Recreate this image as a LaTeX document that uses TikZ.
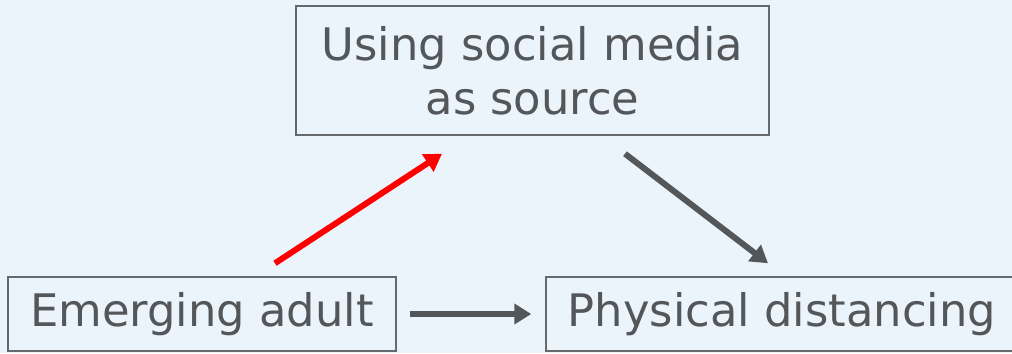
\documentclass[tikz,border=0pt]{standalone}
\usepackage{fontspec}
\setmainfont{DejaVu Sans}
\usetikzlibrary{arrows.meta}
\definecolor{bgblue}{HTML}{EBF3FB}
\definecolor{inkgray}{HTML}{54575A}
\definecolor{framegray}{HTML}{66696C}
\tikzset{
  box/.style={draw=framegray, line width=1.5bp, inner sep=0pt, align=center,
    text=inkgray, font=\fontsize{45}{54}\selectfont},
  link/.style={-{Triangle[length=17bp,width=20bp]}, line width=6bp, color=inkgray}
}
\begin{document}
\begin{tikzpicture}[x=1bp,y=-1bp]
\fill[bgblue] (0,0) rectangle (1012,353);
\useasboundingbox (0,0) rectangle (1012,353);

\node[box, minimum width=473bp, minimum height=129bp] (sm) at (532.5,70.5) {Using social media\\as source};
\node[box, minimum width=388bp, minimum height=74bp] (ea) at (202,314) {Emerging adult};
\node[box, minimum width=472bp, minimum height=74bp] (pd) at (782,314) {Physical distancing};

\draw[link, color=red] ([xshift=73bp,yshift=13bp]ea.north) -- ([xshift=-90.5bp,yshift=-18bp]sm.south);
\draw[link] ([xshift=92.5bp,yshift=-18bp]sm.south) -- ([xshift=-14bp,yshift=13bp]pd.north);
\draw[link, shorten <=13bp, shorten >=14bp] (ea.east) -- (pd.west);
\end{tikzpicture}
\end{document}
